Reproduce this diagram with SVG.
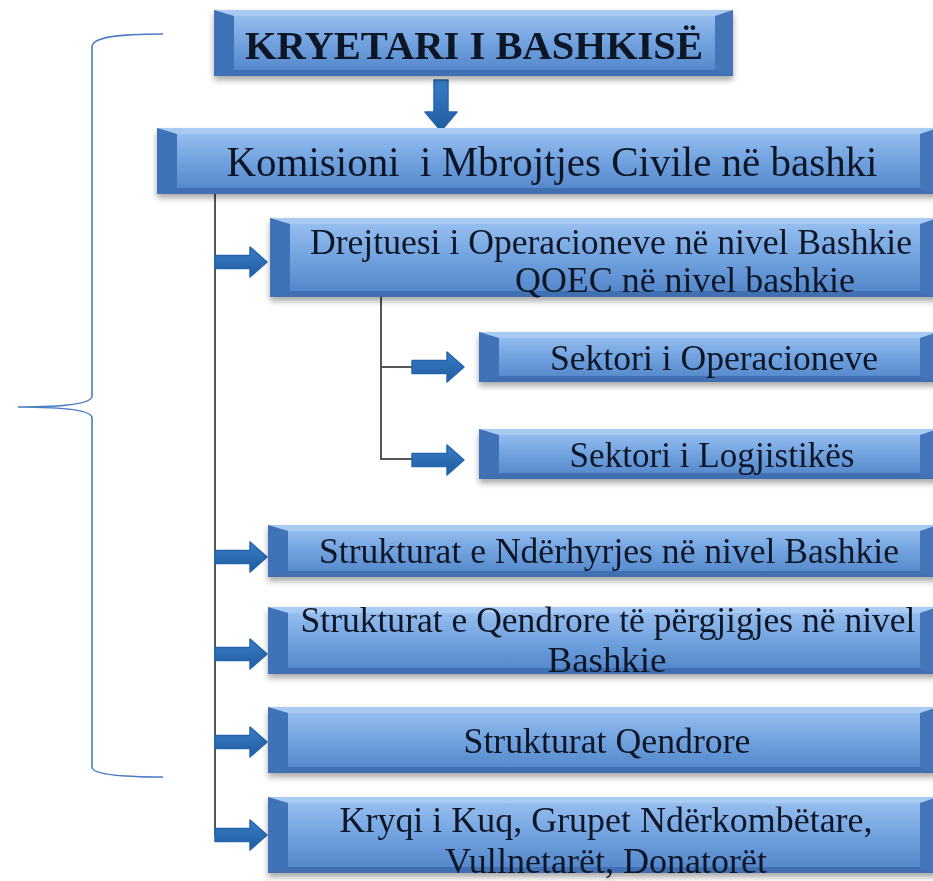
<svg xmlns="http://www.w3.org/2000/svg" width="933" height="881" viewBox="0 0 933 881">
<style>
.face{fill:url(#faceGrad)}
.ft{fill:#a9cbf3}
.fb{fill:#3f6fb2}
.fl{fill:#4172b8}
.fr{fill:#4575b9}
.lbl{font-family:"Liberation Serif","Times New Roman",serif;font-size:36px;fill:#0d1626;text-anchor:middle}
.conn{stroke:#555;stroke-width:2;fill:none}
.arr{fill:url(#arrGrad);stroke:#2465ad;stroke-width:1.5;stroke-linejoin:round}
.brace{stroke:#4a7ec4;stroke-width:1.6;fill:none}
</style>
<defs>
<linearGradient id="faceGrad" x1="0" y1="0" x2="0" y2="1">
<stop offset="0" stop-color="#9dc3f1"/>
<stop offset="0.45" stop-color="#75a5e1"/>
<stop offset="1" stop-color="#5083c8"/>
</linearGradient>
<linearGradient id="arrGrad" x1="0" y1="0" x2="0" y2="1">
<stop offset="0" stop-color="#3a7dc6"/>
<stop offset="1" stop-color="#1f5c9f"/>
</linearGradient>
<filter id="sh" x="-5%" y="-20%" width="110%" height="150%">
<feDropShadow dx="0" dy="4" stdDeviation="3" flood-color="#000" flood-opacity="0.35"/>
</filter>
<path id="arrow" d="M0,-6.5 H35 V-15 L52,0 L35,15 V6.5 H0 Z"/>
</defs>
<rect width="933" height="881" fill="#ffffff"/>

<path class="brace" d="M163,34 C118,34 92,37 92,47 L92,396 C92,404 62,407 18,407 C62,407 92,410 92,418 L92,767 C92,774 118,777 163,777"/>

<g id="connectors">
<path class="conn" d="M215,194 V836 M381,297 V459 H412 M381,367 H412"/>
<path d="M434,80 H448 V112 H457 L441,131 L425,112 H434 Z" fill="url(#arrGrad)" stroke="#2465ad" stroke-width="1.5" stroke-linejoin="round"/>
<use href="#arrow" class="arr" transform="translate(215,262)"/>
<use href="#arrow" class="arr" transform="translate(412,367)"/>
<use href="#arrow" class="arr" transform="translate(412,460)"/>
<use href="#arrow" class="arr" transform="translate(215,557)"/>
<use href="#arrow" class="arr" transform="translate(215,654)"/>
<use href="#arrow" class="arr" transform="translate(215,742)"/>
<use href="#arrow" class="arr" transform="translate(215,835)"/>
</g>

<g id="n-kryetari" filter="url(#sh)">
<rect class="face" x="214" y="10" width="519" height="66"/>
<polygon class="ft" points="214,10 733,10 715,16 234,16"/>
<polygon class="fb" points="214,76 733,76 715,70 234,70"/>
<polygon class="fl" points="214,10 234,16 234,70 214,76"/>
<polygon class="fr" points="733,10 715,16 715,70 733,76"/>
<text class="lbl" x="474" y="59" style="font-size:41px;font-weight:bold" textLength="458" lengthAdjust="spacingAndGlyphs">KRYETARI I BASHKISË</text>
</g>

<g id="n-komisioni" filter="url(#sh)">
<rect class="face" x="157" y="128" width="781" height="66"/>
<polygon class="ft" points="157,128 938,128 920,134 177,134"/>
<polygon class="fb" points="157,194 938,194 920,188 177,188"/>
<polygon class="fl" points="157,128 177,134 177,188 157,194"/>
<polygon class="fr" points="938,128 920,134 920,188 938,194"/>
<text class="lbl" x="552" y="176" xml:space="preserve" style="font-size:43px;white-space:pre" textLength="651" lengthAdjust="spacingAndGlyphs">Komisioni  i Mbrojtjes Civile në bashki</text>
</g>

<g id="n-drejtuesi" filter="url(#sh)">
<rect class="face" x="270" y="218" width="668" height="79"/>
<polygon class="ft" points="270,218 938,218 920,224 290,224"/>
<polygon class="fb" points="270,297 938,297 920,291 290,291"/>
<polygon class="fl" points="270,218 290,224 290,291 270,297"/>
<polygon class="fr" points="938,218 920,224 920,291 938,297"/>
<text class="lbl" x="611" y="254" textLength="602" lengthAdjust="spacingAndGlyphs">Drejtuesi i Operacioneve në nivel Bashkie</text>
<text class="lbl" x="685" y="292" textLength="340" lengthAdjust="spacingAndGlyphs">QOEC në nivel bashkie</text>
</g>

<g id="n-sektori-op" filter="url(#sh)">
<rect class="face" x="479" y="332" width="459" height="50"/>
<polygon class="ft" points="479,332 938,332 920,338 499,338"/>
<polygon class="fb" points="479,382 938,382 920,376 499,376"/>
<polygon class="fl" points="479,332 499,338 499,376 479,382"/>
<polygon class="fr" points="938,332 920,338 920,376 938,382"/>
<text class="lbl" x="714" y="370" textLength="328" lengthAdjust="spacingAndGlyphs">Sektori i Operacioneve</text>
</g>

<g id="n-sektori-log" filter="url(#sh)">
<rect class="face" x="479" y="429" width="459" height="50"/>
<polygon class="ft" points="479,429 938,429 920,435 499,435"/>
<polygon class="fb" points="479,479 938,479 920,473 499,473"/>
<polygon class="fl" points="479,429 499,435 499,473 479,479"/>
<polygon class="fr" points="938,429 920,435 920,473 938,479"/>
<text class="lbl" x="712" y="467" textLength="285" lengthAdjust="spacingAndGlyphs">Sektori i Logjistikës</text>
</g>

<g id="n-nderhyrjes" filter="url(#sh)">
<rect class="face" x="268" y="525" width="670" height="52"/>
<polygon class="ft" points="268,525 938,525 920,531 288,531"/>
<polygon class="fb" points="268,577 938,577 920,571 288,571"/>
<polygon class="fl" points="268,525 288,531 288,571 268,577"/>
<polygon class="fr" points="938,525 920,531 920,571 938,577"/>
<text class="lbl" x="609" y="563" textLength="580" lengthAdjust="spacingAndGlyphs">Strukturat e Ndërhyrjes në nivel Bashkie</text>
</g>

<g id="n-qendrore-pergjigjes" filter="url(#sh)">
<rect class="face" x="268" y="607" width="670" height="67"/>
<polygon class="ft" points="268,607 938,607 920,613 288,613"/>
<polygon class="fb" points="268,674 938,674 920,668 288,668"/>
<polygon class="fl" points="268,607 288,613 288,668 268,674"/>
<polygon class="fr" points="938,607 920,613 920,668 938,674"/>
<text class="lbl" x="608" y="632" textLength="615" lengthAdjust="spacingAndGlyphs">Strukturat e Qendrore të përgjigjes në nivel</text>
<text class="lbl" x="607" y="672" textLength="119" lengthAdjust="spacingAndGlyphs">Bashkie</text>
</g>

<g id="n-strukturat-qendrore" filter="url(#sh)">
<rect class="face" x="268" y="707" width="670" height="66"/>
<polygon class="ft" points="268,707 938,707 920,713 288,713"/>
<polygon class="fb" points="268,773 938,773 920,767 288,767"/>
<polygon class="fl" points="268,707 288,713 288,767 268,773"/>
<polygon class="fr" points="938,707 920,713 920,767 938,773"/>
<text class="lbl" x="607" y="753" textLength="287" lengthAdjust="spacingAndGlyphs">Strukturat Qendrore</text>
</g>

<g id="n-kryqi" filter="url(#sh)">
<rect class="face" x="268" y="797" width="670" height="76"/>
<polygon class="ft" points="268,797 938,797 920,803 288,803"/>
<polygon class="fb" points="268,873 938,873 920,867 288,867"/>
<polygon class="fl" points="268,797 288,803 288,867 268,873"/>
<polygon class="fr" points="938,797 920,803 920,867 938,873"/>
<text class="lbl" x="606" y="832" textLength="533" lengthAdjust="spacingAndGlyphs">Kryqi i Kuq, Grupet Ndërkombëtare,</text>
<text class="lbl" x="606" y="873" textLength="322" lengthAdjust="spacingAndGlyphs">Vullnetarët, Donatorët</text>
</g>
</svg>
